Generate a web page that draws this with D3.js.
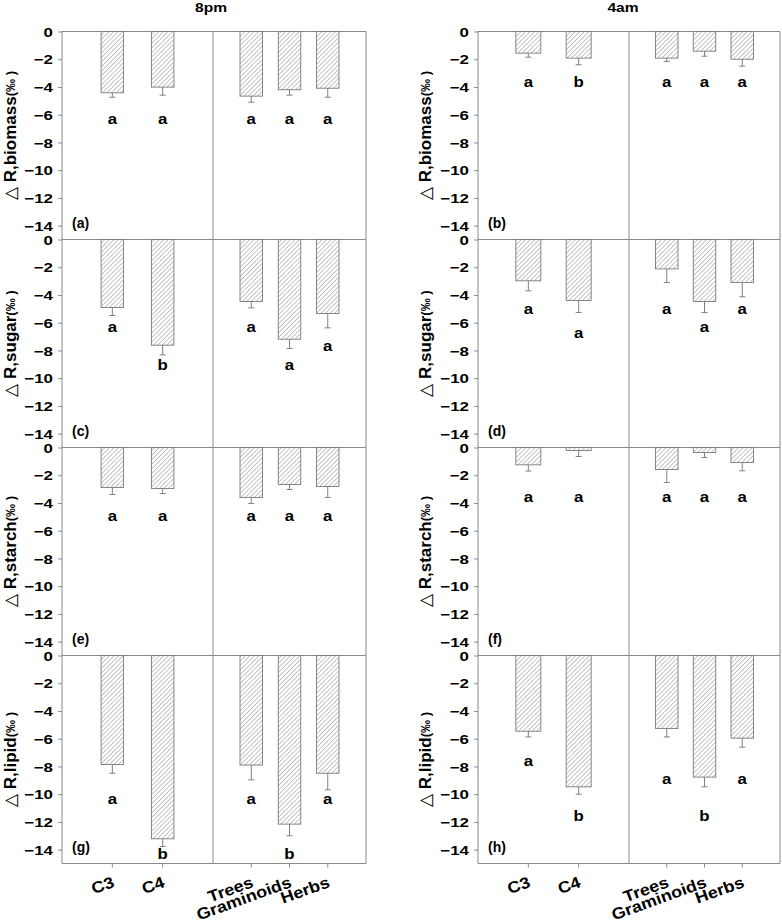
<!DOCTYPE html>
<html>
<head>
<meta charset="utf-8">
<script src="https://cdn.jsdelivr.net/npm/d3@7"></script>
<style>
  body { margin: 0; background: #fff; }
  text { font-family: "Liberation Sans", Arial, sans-serif; font-weight: bold; fill: #000; }
</style>
</head>
<body>
<svg id="chart"></svg>
<script>
// categories and labels
var groupA = ["C3", "C4"];
var groupB = ["Trees", "Graminoids", "Herbs"];
var categories = groupA.concat(groupB);
var times = ["8pm", "4am"];
var fractions = ["biomass", "sugar", "starch", "lipid"];
var panelTags = [["(a)", "(b)"], ["(c)", "(d)"], ["(e)", "(f)"], ["(g)", "(h)"]];
var yTicks = [0, -2, -4, -6, -8, -10, -12, -14];

// values: mean, error bar length, letter, letter baseline
var biomass8pm     = [-4.42, -4.01, -4.66, -4.20, -4.09];
var biomass8pmErr  = [0.32, 0.58, 0.44, 0.39, 0.65];
var biomass8pmSig  = ["a", "a", "a", "a", "a"];
var biomass8pmSigY = [-6.7, -6.7, -6.7, -6.7, -6.7];

var biomass4am     = [-1.56, -1.92, -1.92, -1.42, -2.00];
var biomass4amErr  = [0.29, 0.48, 0.24, 0.36, 0.50];
var biomass4amSig  = ["a", "b", "a", "a", "a"];
var biomass4amSigY = [-4.0, -4.0, -4.0, -4.0, -4.0];

var sugar8pm     = [-4.90, -7.62, -4.47, -7.19, -5.34];
var sugar8pmErr  = [0.58, 0.70, 0.46, 0.67, 1.03];
var sugar8pmSig  = ["a", "b", "a", "a", "a"];
var sugar8pmSigY = [-6.7, -9.42, -6.7, -9.42, -8.03];

var sugar4am     = [-2.98, -4.40, -2.12, -4.47, -3.10];
var sugar4amErr  = [0.72, 0.86, 0.98, 0.79, 1.03];
var sugar4amSig  = ["a", "a", "a", "a", "a"];
var sugar4amSigY = [-5.34, -7.07, -5.34, -6.7, -5.34];

var starch8pm     = [-2.88, -2.96, -3.60, -2.67, -2.81];
var starch8pmErr  = [0.51, 0.36, 0.44, 0.36, 0.79];
var starch8pmSig  = ["a", "a", "a", "a", "a"];
var starch8pmSigY = [-5.31, -5.31, -5.31, -5.31, -5.31];

var starch4am     = [-1.25, -0.22, -1.59, -0.36, -1.08];
var starch4amErr  = [0.45, 0.43, 0.93, 0.36, 0.60];
var starch4amSig  = ["a", "a", "a", "a", "a"];
var starch4amSigY = [-3.94, -3.94, -3.94, -3.94, -3.94];

var lipid8pm     = [-7.86, -13.22, -7.90, -12.16, -8.49];
var lipid8pmErr  = [0.63, 0.55, 1.07, 0.84, 1.20];
var lipid8pmSig  = ["a", "b", "a", "b", "a"];
var lipid8pmSigY = [-10.7, -14.69, -10.7, -14.69, -10.7];

var lipid4am     = [-5.46, -9.47, -5.26, -8.77, -5.96];
var lipid4amErr  = [0.41, 0.53, 0.61, 0.70, 0.65];
var lipid4amSig  = ["a", "b", "a", "b", "a"];
var lipid4amSigY = [-7.96, -11.97, -9.25, -11.97, -9.25];

var panelData = [
  [[biomass8pm, biomass8pmErr, biomass8pmSig, biomass8pmSigY], [biomass4am, biomass4amErr, biomass4amSig, biomass4amSigY]],
  [[sugar8pm, sugar8pmErr, sugar8pmSig, sugar8pmSigY], [sugar4am, sugar4amErr, sugar4amSig, sugar4amSigY]],
  [[starch8pm, starch8pmErr, starch8pmSig, starch8pmSigY], [starch4am, starch4amErr, starch4amSig, starch4amSigY]],
  [[lipid8pm, lipid8pmErr, lipid8pmSig, lipid8pmSigY], [lipid4am, lipid4amErr, lipid4amSig, lipid4amSigY]]
];

var W = 782, H = 924;
var lineColor = "#8a8a8a";
var panelTop = 31.5, panelH = 208;
// each column: left axis, group divider, right edge, bar widths for the two groups
var cols = [
  {left: 62, mid: 213, right: 366, bwA: 22.5, bwB: 22.5, labelX: 15.5, titleX: 211},
  {left: 478, mid: 629, right: 780, bwA: 25, bwB: 22.5, labelX: 431, titleX: 623}
];

var svg = d3.select("#chart").attr("width", W).attr("height", H);

// hatch fill for bars
var pat = svg.append("defs").append("pattern")
    .attr("id", "hatch")
    .attr("patternUnits", "userSpaceOnUse")
    .attr("width", 3.2).attr("height", 3.2)
    .attr("patternTransform", "rotate(45)");
pat.append("rect").attr("width", 3.2).attr("height", 3.2).attr("fill", "#fff");
pat.append("line").attr("x1", 0).attr("y1", 0).attr("x2", 0).attr("y2", 3.2)
    .attr("stroke", "#8c8c8c").attr("stroke-width", 1);

function stretchText(sel, x, y, sx) {
  sel.attr("transform", "translate(" + x + "," + y + ") scale(" + sx + ",1)");
}

cols.forEach(function(c, ci) {
  var xA = d3.scalePoint().domain(groupA).range([c.left, c.mid]).padding(1);
  var xB = d3.scalePoint().domain(groupB).range([c.mid, c.right]).padding(1);
  var xPos = function(cat) { return groupA.indexOf(cat) >= 0 ? xA(cat) : xB(cat); };
  var bw = function(cat) { return groupA.indexOf(cat) >= 0 ? c.bwA : c.bwB; };

  // column title
  stretchText(svg.append("text").attr("text-anchor", "middle").style("font-size", "13px").text(times[ci]),
    c.titleX, 12, 1.2);

  fractions.forEach(function(fr, ri) {
    var top = panelTop + ri * panelH;
    var y = d3.scaleLinear().domain([-15, 0]).range([top + panelH, top]);
    var d = panelData[ri][ci];
    var g = svg.append("g");

    // frame
    g.append("line").attr("x1", c.left).attr("x2", c.right).attr("y1", y(0)).attr("y2", y(0))
      .attr("stroke", lineColor);
    g.append("line").attr("x1", c.mid).attr("x2", c.mid).attr("y1", top).attr("y2", top + panelH)
      .attr("stroke", lineColor);
    g.append("line").attr("x1", c.right).attr("x2", c.right).attr("y1", top).attr("y2", top + panelH)
      .attr("stroke", lineColor);

    // left axis
    var ax = g.append("g").attr("transform", "translate(" + c.left + ",0)")
      .call(d3.axisLeft(y).tickValues(yTicks).tickSize(4).tickPadding(5).tickFormat(d3.format("d")));
    ax.select(".domain").attr("stroke", lineColor).attr("d", "M0," + top + "V" + (top + panelH));
    ax.selectAll(".tick line").attr("stroke", lineColor);
    ax.selectAll(".tick text").each(function() {
      d3.select(this).attr("x", null).attr("dy", null).attr("y", null)
        .style("font-size", "13px").attr("fill", "#000")
        .attr("text-anchor", "end")
        .attr("transform", "translate(-9,4.6) scale(1.3,1)");
    });
    ax.attr("font-family", null).attr("font-size", null);

    // bars
    g.selectAll("rect.bar").data(categories).enter().append("rect")
      .attr("class", "bar")
      .attr("x", function(cat) { return xPos(cat) - bw(cat) / 2; })
      .attr("width", bw)
      .attr("y", y(0))
      .attr("height", function(cat, i) { return y(d[0][i]) - y(0); })
      .attr("fill", "url(#hatch)")
      .attr("stroke", "#7a7a7a").attr("stroke-width", 0.9);

    // one-sided error bars and letters
    categories.forEach(function(cat, i) {
      var x0 = xPos(cat), y1 = y(d[0][i]), y2 = y(d[0][i] - d[1][i]);
      g.append("line").attr("x1", x0).attr("x2", x0).attr("y1", y1).attr("y2", y2)
        .attr("stroke", "#808080");
      g.append("line").attr("x1", x0 - 3).attr("x2", x0 + 3).attr("y1", y2).attr("y2", y2)
        .attr("stroke", "#808080");
      stretchText(g.append("text").attr("text-anchor", "middle").style("font-size", "14px").text(d[2][i]),
        x0, y(d[3][i]), 1.2);
    });

    // panel tag
    g.append("text").attr("x", c.left + 10).attr("y", y(-13.8) + 5)
      .style("font-size", "14px").text(panelTags[ri][ci]);

    // y label
    var lab = g.append("text")
      .attr("transform", "translate(" + c.labelX + "," + (top + panelH / 2) + ") rotate(-90)")
      .attr("text-anchor", "middle").style("font-size", "17px");
    lab.append("tspan").style("font-weight", "normal").text("\u25B3");
    lab.append("tspan").text(" R," + fr);
    lab.append("tspan").style("font-size", "13px").attr("dy", -1).text("(\u2030 )");

    // category axis under the bottom panel
    if (ri === fractions.length - 1) {
      categories.forEach(function(cat) {
        var x0 = xPos(cat);
        g.append("line").attr("x1", x0).attr("x2", x0).attr("y1", top + panelH).attr("y2", top + panelH + 4)
          .attr("stroke", lineColor);
        g.append("text").attr("text-anchor", "end").style("font-size", "16px")
          .attr("transform", "translate(" + (x0 + 3) + "," + (top + panelH + 23) + ") rotate(-20) scale(1.12,1)")
          .text(cat);
      });
      g.append("line").attr("x1", c.left).attr("x2", c.right).attr("y1", top + panelH).attr("y2", top + panelH)
        .attr("stroke", lineColor);
    }
  });
});
</script>
</body>
</html>
